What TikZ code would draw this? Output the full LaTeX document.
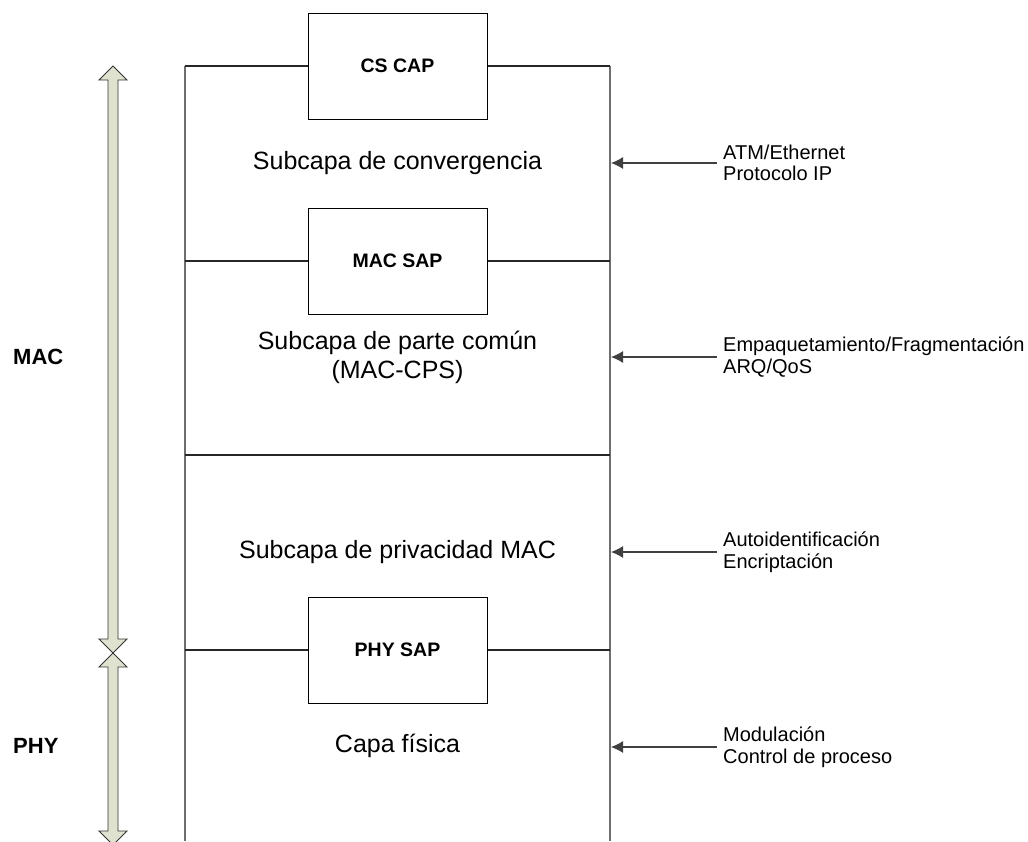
\documentclass[tikz,border=0pt]{standalone}
\usepackage{fontspec}
\setmainfont{Liberation Sans}
\usetikzlibrary{arrows.meta}
\definecolor{shaftfill}{RGB}{222,226,206}
\definecolor{edgegray}{RGB}{110,110,110}
\begin{document}
\begin{tikzpicture}[x=1pt,y=-1pt,
  sapbox/.style={draw=black,line width=1pt,fill=white,minimum width=179pt,minimum height=106pt,inner sep=0pt,
    font=\fontsize{19.5}{22}\selectfont\bfseries},
  layertext/.style={align=center,font=\fontsize{25}{28}\selectfont,inner sep=0pt},
  sidetext/.style={anchor=west,align=left,font=\fontsize{20}{21.5}\selectfont,inner sep=0pt},
  bigtag/.style={anchor=west,font=\fontsize{22}{24}\selectfont\bfseries,inner sep=0pt},
  wall/.style={draw=edgegray,line width=1.6pt},
  rowline/.style={draw=black!85,line width=1.1pt},
  feed/.style={draw=black!75,line width=1.1pt,-{Latex[length=12pt,width=12pt]}},
  spanarrow/.style={draw=black!80,line width=0.9pt,fill=shaftfill,line join=miter}]
\useasboundingbox (0,0) rectangle (1028,841);

% service access points
\node[sapbox] (cs)  at (397.5,66)  {CS CAP};
\node[sapbox] (mac) at (397.5,261) {MAC SAP};
\node[sapbox] (phy) at (397.5,650) {PHY SAP};

% stack walls
\coordinate (tl) at (185,66);
\coordinate (tr) at (610,66);
\coordinate (bl) at (185,841);
\coordinate (br) at (610,841);
\draw[wall] (tl) -- (bl);
\draw[wall] (tr) -- (br);

% layer boundaries
\draw[rowline] (tl) -- (cs.west);
\draw[rowline] (cs.east) -- (tr);
\draw[rowline] (185,261) -- (mac.west);
\draw[rowline] (mac.east) -- (610,261);
\draw[rowline] (185,455) -- (610,455);
\draw[rowline] (185,650) -- (phy.west);
\draw[rowline] (phy.east) -- (610,650);

% layer names
\node[layertext] (conv) at (397.5,163) {Subcapa de convergencia};
\node[layertext] (cps)  at (397.5,357) {Subcapa de parte común\\[1pt](MAC-CPS)};
\node[layertext] (priv) at (397.5,552) {Subcapa de privacidad MAC};
\node[layertext] (fis)  at (397.5,746) {Capa física};

% functions fed into each layer
\node[sidetext] (f1) at (723,163) {ATM/Ethernet\\Protocolo IP};
\node[sidetext] (f2) at (723,357) {Empaquetamiento/Fragmentación\\ARQ/QoS};
\node[sidetext] (f3) at (723,552) {Autoidentificación\\Encriptación};
\node[sidetext] (f4) at (723,747) {Modulación\\Control de proceso};
\coordinate (r1) at (611,163);
\coordinate (r2) at (611,357);
\coordinate (r3) at (611,552);
\coordinate (r4) at (611,747);
\draw[feed] ([xshift=-6pt]f1.west) -- (r1);
\draw[feed] ([xshift=-6pt]f2.west) -- (r2);
\draw[feed] ([xshift=-6pt]f3.west) -- (r3);
\draw[feed] ([xshift=-6pt]f4.west) -- (r4);

% span arrows on the left
\draw[spanarrow] (113,66) -- (127,80) -- (118,80) -- (118,639) -- (127,639) -- (113,653)
  -- (99,639) -- (108,639) -- (108,80) -- (99,80) -- cycle;
\draw[spanarrow] (113,653) -- (127,667) -- (118,667) -- (118,831) -- (127,831) -- (113,845)
  -- (99,831) -- (108,831) -- (108,667) -- (99,667) -- cycle;

\node[bigtag] (tmac) at (13,357) {MAC};
\node[bigtag] (tphy) at (13,746) {PHY};
\end{tikzpicture}
\end{document}
